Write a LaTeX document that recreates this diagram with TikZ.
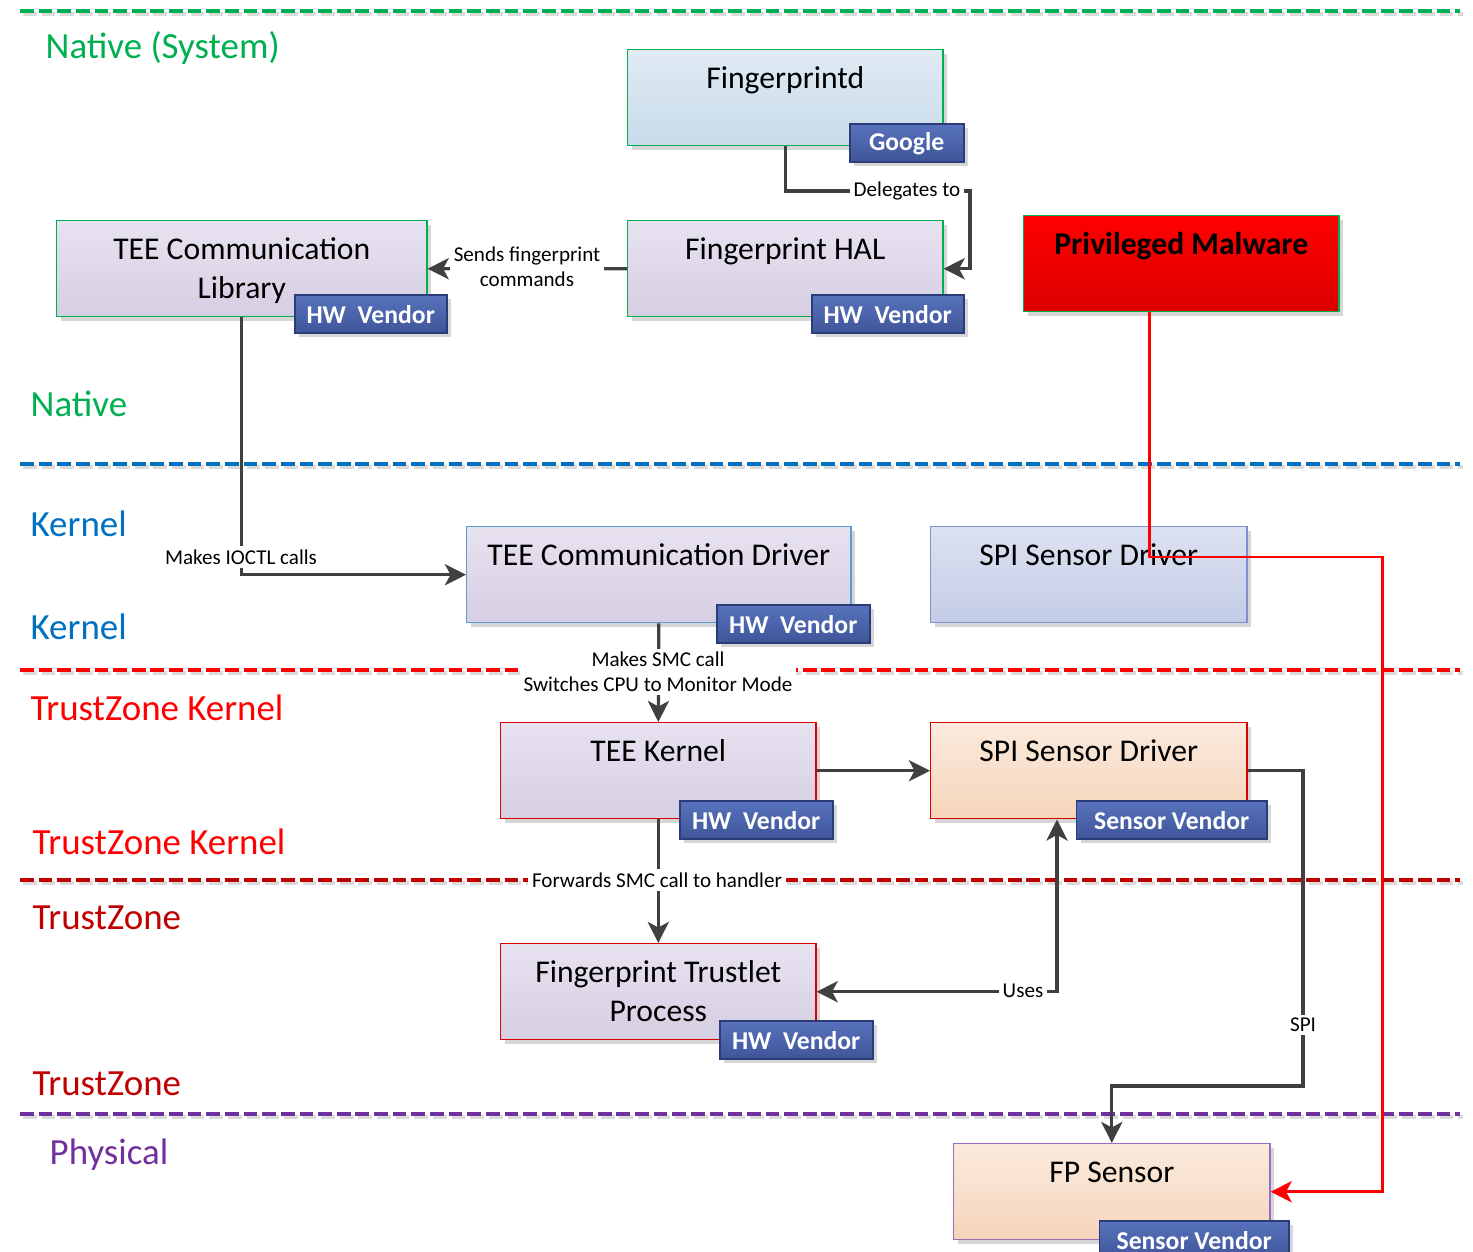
\documentclass[tikz,border=0pt]{standalone}
\usepackage{fontspec}
\setmainfont{Carlito}
\usetikzlibrary{calc,shadows,arrows.meta}

\definecolor{cgreen}{HTML}{00B050}
\definecolor{cblue}{HTML}{0070C0}
\definecolor{cred}{HTML}{FF0000}
\definecolor{cdred}{HTML}{C00000}
\definecolor{cpurple}{HTML}{7030A0}
\definecolor{conn}{HTML}{404040}
\definecolor{lavtop}{HTML}{E7E2F0}
\definecolor{lavbot}{HTML}{D6CEE2}
\definecolor{skytop}{HTML}{E0EAF3}
\definecolor{skybot}{HTML}{C8DCEA}
\definecolor{peachtop}{HTML}{FBEADD}
\definecolor{peachbot}{HTML}{F5D5BA}
\definecolor{perktop}{HTML}{DDE2F1}
\definecolor{perkbot}{HTML}{C3CCE6}
\definecolor{maltop}{HTML}{FF0000}
\definecolor{malbot}{HTML}{DC0000}
\definecolor{badgetop}{HTML}{5772BC}
\definecolor{badgebot}{HTML}{3F5599}
\definecolor{badgeline}{HTML}{2C3C78}
\definecolor{drvline}{HTML}{5B9BD5}
\definecolor{spiline}{HTML}{7F8FCF}
\definecolor{fpline}{HTML}{9A6CC0}

\newcommand\boxfont{\fontsize{9}{11.1}\selectfont}
\newcommand\lblfont{\fontsize{6}{7.1}\selectfont}
\newcommand\layerfont{\fontsize{10.5}{12}\selectfont}

\tikzset{
  x=0.01cm, y=-0.01cm,
  shade/.style={drop shadow={shadow xshift=0.04cm, shadow yshift=-0.04cm,
      fill=black!16, opacity=1}},
  box/.style={anchor=north west, inner sep=0pt, align=center,
      text height=0.39cm, text depth=0.57cm, font=\boxfont,
      line width=0.4pt, shade},
  twolines/.style={text height=0.78cm, text depth=0.18cm},
  lavbox/.style={box, top color=lavtop, bottom color=lavbot},
  badge/.style={anchor=north east, inner sep=0pt, minimum height=0.38cm,
      top color=badgetop, bottom color=badgebot, draw=badgeline,
      line width=0.5pt, text=white, font=\bfseries\fontsize{7.3}{8}\selectfont,
      shade},
  lbl/.style={fill=white, inner sep=1pt, align=center, font=\lblfont},
  layer/.style={anchor=west, inner sep=0pt, font=\layerfont},
  sep/.style={line width=1.4pt, dash pattern=on 3.9pt off 1.4pt},
  sepshadow/.style={sep, draw=black!14, shift={(3,3)}},
  tip/.style={},
  cline/.style={draw=conn, line width=0.9pt,
      -{Stealth[length=6pt,width=6pt,inset=1.6pt]}},
  bline/.style={draw=conn, line width=0.9pt,
      {Stealth[length=6pt,width=6pt,inset=1.6pt]}-{Stealth[length=6pt,width=6pt,inset=1.6pt]}},
  rline/.style={draw=cred, line width=0.85pt,
      -{Stealth[length=6pt,width=6pt,inset=1.6pt]}},
}

\begin{document}
\begin{tikzpicture}
\useasboundingbox (0,0) rectangle (1473,1252);

% layer separators (with a faint shadow)
\foreach \yy/\cc in {11/cgreen, 464/cblue, 670/cred, 880/cdred, 1114/cpurple}{
  \draw[sepshadow] (20,\yy) -- (1460,\yy);
  \draw[sep, draw=\cc] (20,\yy) -- (1460,\yy);
}

% layer titles
\node[layer, text=cgreen] (lNs) at (45,48) {Native (System)};
\node[layer, text=cgreen] (lN) at (30,404) {Native};
\node[layer, text=cblue] (lK1) at (30,524) {Kernel};
\node[layer, text=cblue] (lK2) at (30,627) {Kernel};
\node[layer, text=cred] (lTK1) at (30,708) {TrustZone Kernel};
\node[layer, text=cred] (lTK2) at (32,842) {TrustZone Kernel};
\node[layer, text=cdred] (lT1) at (32,918) {TrustZone};
\node[layer, text=cdred] (lT2) at (32,1084) {TrustZone};
\node[layer, text=cpurple] (lP) at (49,1155) {Physical};

% components
\node[box, minimum width=3.15cm, draw=cgreen, top color=skytop, bottom color=skybot]
  (fpd) at (627,49) {Fingerprintd};
\node[lavbox, minimum width=3.15cm, draw=cgreen] (hal) at (627,220) {Fingerprint HAL};
\node[lavbox, twolines, minimum width=3.70cm, draw=cgreen] (lib) at (56,220) {TEE Communication\\Library};
\node[box, minimum width=3.15cm, draw=cgreen, top color=maltop, bottom color=malbot,
      font=\bfseries\boxfont] (mal) at (1023,215) {Privileged Malware};
\node[lavbox, minimum width=3.84cm, draw=drvline] (drv) at (466,526) {TEE Communication Driver};
\node[box, minimum width=3.16cm, draw=spiline, top color=perktop, bottom color=perkbot]
  (spik) at (930,526) {SPI Sensor Driver};
\node[lavbox, minimum width=3.15cm, draw=cred!85!black] (tk) at (500,722) {TEE Kernel};
\node[box, minimum width=3.16cm, draw=cred!85!black, top color=peachtop, bottom color=peachbot]
  (spitz) at (930,722) {SPI Sensor Driver};
\node[lavbox, twolines, minimum width=3.15cm, draw=cred!85!black] (tp) at (500,943) {Fingerprint Trustlet\\Process};
\node[box, minimum width=3.16cm, draw=fpline, top color=peachtop, bottom color=peachbot]
  (fps) at (953,1143) {FP Sensor};

% connectors
\coordinate (dlgR) at (970,191);
\draw[cline] (fpd.south) |- (dlgR) |- (hal.east);
\node[lbl] (dlgL) at (907,191) {Delegates to};

\draw[cline] (hal.west) -- (lib.east);
\node[lbl] (sndL) at (527,267) {Sends fingerprint\\commands};

\draw[cline] (lib.south) |- (drv.west);
\node[lbl] (ioL) at (241,557) {Makes IOCTL calls};

\draw[cline] (drv.south) -- (tk.north);
\node[lbl] (smcL) at (658,672) {Makes SMC call\\Switches CPU to Monitor Mode};

\draw[cline] (tk.east) -- (spitz.west);

\draw[cline] (tk.south) -- (tp.north);
\node[lbl] (fwdL) at (657,880) {Forwards SMC call to handler};

\coordinate (usesT) at ($(spitz.south west)+(127,0)$);
\draw[bline] (tp.east) -| (usesT);
\node[lbl] (usesL) at (1023,991) {Uses};

\coordinate (spiB) at (1303,1086);
\draw[cline] (spitz.east) -| (spiB) -| (fps.north);
\node[lbl] (spiL) at (1303,1025) {SPI};

\coordinate (malB) at ($(mal.south west)+(126,0)$);
\coordinate (malR) at (1382,557);
\draw[rline] (malB) |- (malR) |- (fps.east);

% ownership badges
\node[badge, minimum width=1.14cm] (bFpd) at ($(fpd.south east)+(21,-23)$) {Google};
\node[badge, minimum width=1.52cm] (bHal) at ($(hal.south east)+(21,-23)$) {HW\ \ Vendor};
\node[badge, minimum width=1.52cm] (bLib) at ($(lib.south east)+(20,-23)$) {HW\ \ Vendor};
\node[badge, minimum width=1.53cm] (bDrv) at ($(drv.south east)+(19,-19)$) {HW\ \ Vendor};
\node[badge, minimum width=1.53cm] (bTk) at ($(tk.south east)+(17,-19)$) {HW\ \ Vendor};
\node[badge, minimum width=1.90cm] (bSpi) at ($(spitz.south east)+(20,-19)$) {Sensor Vendor};
\node[badge, minimum width=1.53cm] (bTp) at ($(tp.south east)+(57,-20)$) {HW\ \ Vendor};
\node[badge, minimum width=1.89cm] (bFps) at ($(fps.south east)+(19,-20)$) {Sensor Vendor};
\end{tikzpicture}
\end{document}
